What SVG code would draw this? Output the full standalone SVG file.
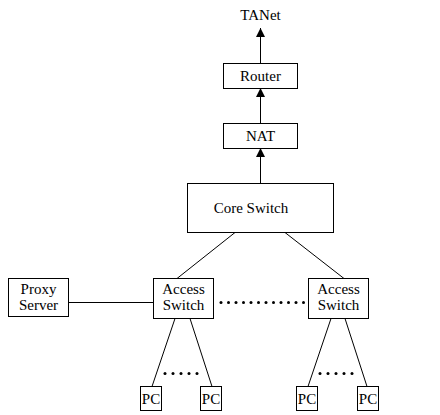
<svg xmlns="http://www.w3.org/2000/svg" width="440" height="415" viewBox="0 0 440 415">
  <defs>
    <marker id="arrow" viewBox="0 0 10 10" refX="10" refY="5" markerWidth="9" markerHeight="10" markerUnits="userSpaceOnUse" orient="auto">
      <path d="M0,0 L10,5 L0,10 Z" fill="#000"/>
    </marker>
    <style>
      .box { fill: #fff; stroke: #000; stroke-width: 1; }
      .lbl { font-family: 'Liberation Serif', 'DejaVu Serif', 'Times New Roman', serif; font-size: 15px; fill: #000; text-anchor: middle; }
      .wire { stroke: #000; stroke-width: 1; fill: none; }
      .dots { fill: #000; }
    </style>
  </defs>
  <rect width="440" height="415" fill="#fff"/>

  <!-- connectors -->
  <g id="connectors">
    <line class="wire" x1="260.5" y1="63" x2="260.5" y2="28" marker-end="url(#arrow)"/>
    <line class="wire" x1="260.5" y1="123" x2="260.5" y2="88" marker-end="url(#arrow)"/>
    <line class="wire" x1="260.5" y1="183" x2="260.5" y2="148" marker-end="url(#arrow)"/>
    <line class="wire" x1="235" y1="232.5" x2="177" y2="278.5"/>
    <line class="wire" x1="285" y1="232.5" x2="344" y2="278.5"/>
    <line class="wire" x1="68.5" y1="302.5" x2="153" y2="302.5"/>
    <line class="wire" x1="175" y1="318.5" x2="152" y2="386.5"/>
    <line class="wire" x1="190" y1="318.5" x2="212" y2="386.5"/>
    <line class="wire" x1="331" y1="318.5" x2="308" y2="386.5"/>
    <line class="wire" x1="345" y1="318.5" x2="367" y2="386.5"/>
    <!-- dotted continuation between access switches -->
    <g class="dots">
      <circle cx="221" cy="302.5" r="1.5"/>
      <circle cx="228.5" cy="302.5" r="1.5"/>
      <circle cx="236" cy="302.5" r="1.5"/>
      <circle cx="243.5" cy="302.5" r="1.5"/>
      <circle cx="251" cy="302.5" r="1.5"/>
      <circle cx="258.5" cy="302.5" r="1.5"/>
      <circle cx="266" cy="302.5" r="1.5"/>
      <circle cx="273.5" cy="302.5" r="1.5"/>
      <circle cx="281" cy="302.5" r="1.5"/>
      <circle cx="288.5" cy="302.5" r="1.5"/>
      <circle cx="296" cy="302.5" r="1.5"/>
      <circle cx="303.5" cy="302.5" r="1.5"/>
    </g>
    <!-- dotted gaps between PCs -->
    <g class="dots">
      <circle cx="165" cy="373.5" r="1.5"/>
      <circle cx="173" cy="373.5" r="1.5"/>
      <circle cx="181" cy="373.5" r="1.5"/>
      <circle cx="189" cy="373.5" r="1.5"/>
      <circle cx="197" cy="373.5" r="1.5"/>
      <circle cx="320" cy="373.5" r="1.5"/>
      <circle cx="328" cy="373.5" r="1.5"/>
      <circle cx="336" cy="373.5" r="1.5"/>
      <circle cx="344" cy="373.5" r="1.5"/>
      <circle cx="352" cy="373.5" r="1.5"/>
    </g>
  </g>

  <g id="tanet">
    <text class="lbl" x="260.5" y="20">TANet</text>
  </g>

  <g id="router">
    <rect class="box" x="223.5" y="63.5" width="74" height="25"/>
    <text class="lbl" x="260.5" y="81">Router</text>
  </g>

  <g id="nat">
    <rect class="box" x="223.5" y="123.5" width="74" height="25"/>
    <text class="lbl" x="260.5" y="141">NAT</text>
  </g>

  <g id="core-switch">
    <rect class="box" x="187.5" y="183.5" width="146" height="49"/>
    <text class="lbl" x="251" y="213">Core Switch</text>
  </g>

  <g id="proxy-server">
    <rect class="box" x="8.5" y="278.5" width="60" height="38"/>
    <text class="lbl" x="38.5" y="294">Proxy</text>
    <text class="lbl" x="38.5" y="310">Server</text>
  </g>

  <g id="access-switch-1">
    <rect class="box" x="153.5" y="278.5" width="60" height="40"/>
    <text class="lbl" x="183.5" y="294">Access</text>
    <text class="lbl" x="183.5" y="310">Switch</text>
  </g>

  <g id="access-switch-2">
    <rect class="box" x="308.5" y="278.5" width="60" height="40"/>
    <text class="lbl" x="338.5" y="294">Access</text>
    <text class="lbl" x="338.5" y="310">Switch</text>
  </g>

  <g id="pc-1">
    <rect class="box" x="140.5" y="386.5" width="21" height="24"/>
    <text class="lbl" x="151" y="404">PC</text>
  </g>
  <g id="pc-2">
    <rect class="box" x="200.5" y="386.5" width="21" height="24"/>
    <text class="lbl" x="211" y="404">PC</text>
  </g>
  <g id="pc-3">
    <rect class="box" x="296.5" y="386.5" width="21" height="24"/>
    <text class="lbl" x="307" y="404">PC</text>
  </g>
  <g id="pc-4">
    <rect class="box" x="357.5" y="386.5" width="21" height="24"/>
    <text class="lbl" x="368" y="404">PC</text>
  </g>
</svg>
